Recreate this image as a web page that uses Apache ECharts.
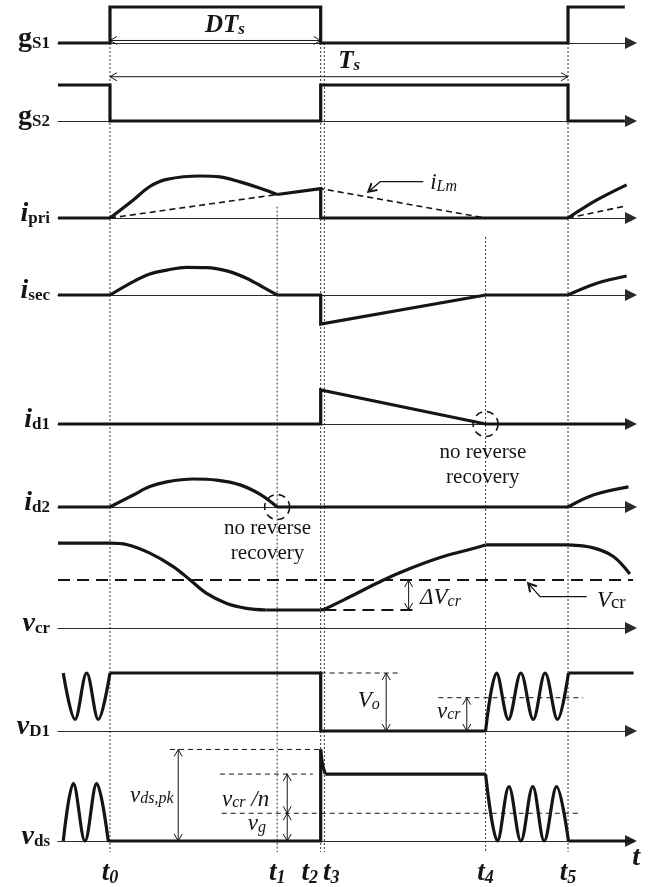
<!DOCTYPE html>
<html>
<head>
<meta charset="utf-8">
<title>Switching waveforms</title>
<script src="https://cdn.jsdelivr.net/npm/echarts@6.0.0/dist/echarts.min.js"></script>
<style>
html, body { margin: 0; padding: 0; background: #fff; }
#chart { width: 657px; height: 887px; }
</style>
</head>
<body>
<div id="chart"></div>
<script>
// ---------------------------------------------------------------------------
// Time base: one switching period Ts runs from t0 = 0 to t5 = 100.
// ---------------------------------------------------------------------------
const tMarks  = [0, 36.5, 46, 46.8, 82, 100];
const tDigits = ['0', '1', '2', '3', '4', '5'];

// Gate signals (1 = switch on)
const gS1 = [[-11.35, 0], [0, 0], [0, 1], [46, 1], [46, 0], [100, 0], [100, 1], [112.4, 1]];
const gS2 = [[-11.35, 1], [0, 1], [0, 0], [46, 0], [46, 1], [100, 1], [100, 0], [112.4, 0]];

// Primary current and magnetizing current iLm
const iPriLead = [[-11.35, 0], [0, 0]];
const iPriArc  = [[0, 0], [5.1, 0.43], [8.7, 0.75], [12.4, 0.92], [19.7, 1.0], [24, 0.98], [28.4, 0.86], [32.8, 0.71], [36.5, 0.56]];
const iPriTail = [[36.5, 0.56], [46, 0.7], [46, 0], [100, 0]];
const iPriNext = [[100, 0], [106.3, 0.43], [112.8, 0.79]];
const iLmRamp  = [[0, 0], [36.5, 0.56], [46, 0.7], [82, 0]];
const iLmNext  = [[100, 0], [112.8, 0.29]];

// Secondary current
const iSecLead = [[-11.35, 0], [0, 0]];
const iSecArc  = [[0, 0], [5.1, 0.48], [8.7, 0.75], [12.4, 0.89], [16.7, 0.99], [21.1, 0.98], [25.5, 0.86], [29.8, 0.6], [33.5, 0.27], [36.5, 0]];
const iSecTail = [[36.5, 0], [46, 0], [46, -1.04], [82, 0], [100, 0]];
const iSecNext = [[100, 0], [106.3, 0.42], [112.8, 0.68]];

// Diode currents
const iD1      = [[-11.35, 0], [46, 0], [46, 1], [82, 0], [113, 0]];
const iD2Lead  = [[-11.35, 0], [0, 0]];
const iD2Arc   = [[0, 0], [5.1, 0.43], [8.7, 0.73], [12.4, 0.9], [18.2, 1.0], [23.3, 0.96], [28.4, 0.79], [32.8, 0.45], [36.5, 0]];
const iD2Tail  = [[36.5, 0], [100, 0]];
const iD2Next  = [[100, 0], [105.5, 0.43], [113.2, 0.72]];

// Resonant capacitor voltage (1 = average Vcr)
const vCrLead  = [[-11.35, 1.77], [0, 1.77]];
const vCrFall  = [[0, 1.77], [3.6, 1.74], [8.7, 1.56], [13.8, 1.28], [17.5, 1.0], [21.1, 0.72], [25.5, 0.51], [29.8, 0.41], [34.2, 0.375]];
const vCrHold  = [[34.2, 0.375], [46, 0.375]];
const vCrRise  = [[46, 0.375], [46.8, 0.39], [52.4, 0.65], [59.7, 1.0], [65.5, 1.24], [72.1, 1.47], [77.9, 1.62], [82, 1.73]];
const vCrTop   = [[82, 1.73], [100, 1.73]];
const vCrDrop  = [[100, 1.73], [105.5, 1.67], [109.9, 1.49], [113.5, 1.125]];
const vCrAvg   = [[-11.35, 1], [115.1, 1]];

// Output diode voltage (1 = Vo)
const vD1Ring  = [[-10.2, 1], [-7.64, 0.2], [-5.09, 1], [-2.55, 0.2], [0, 1]];
const vD1Steps = [[0, 1], [46, 1], [46, 0], [82, 0]];
const vD1Ring2 = [[82, 0], [84.4, 1], [87, 0.2], [89.7, 1], [92.4, 0.2], [95, 1], [97.7, 0.2], [100.1, 1]];
const vD1Tail  = [[100.1, 1], [114.3, 1]];

// Switch drain-source voltage (1 = vg)
const vDsRing  = [[-10.2, 0], [-8.0, 2.06], [-5.46, 0], [-2.9, 2.06], [-0.37, 0]];
const vDsSteps = [[-0.37, 0], [46, 0], [46, 3.27]];
const vDsSpike = [[46, 3.27], [46.4, 2.75], [47, 2.39]];
const vDsFlat  = [[47, 2.39], [82, 2.39]];
const vDsRing2 = [[82, 2.39], [84.6, 0], [87.1, 1.94], [89.7, 0], [92.3, 1.94], [94.8, 0], [97.5, 1.94], [100.1, 0]];
const vDsTail  = [[100.1, 0], [114.3, 0]];

// ---------------------------------------------------------------------------
// Styling and layout
// ---------------------------------------------------------------------------
const FONT = '"Liberation Serif", "Times New Roman", serif';
const INK = '#151515';
const AXIS_INK = '#2a2a2a';
const X_MIN = -11.35, X_MAX = 113.75;
const PLOT = { left: 58, width: 573 };

// One strip per waveform: baseline row and pixels per unit
const traces = [
  { name: 'gS1',  base: 43,  scale: 36, yMin: 0,    yMax: 1,   tag: '{r|g}{rs|S1}' },
  { name: 'gS2',  base: 121, scale: 36, yMin: 0,    yMax: 1.7, tag: '{r|g}{rs|S2}' },
  { name: 'ipri', base: 218, scale: 42, yMin: -0.5, yMax: 1,   tag: '{i|i}{rs|pri}' },
  { name: 'isec', base: 295, scale: 28, yMin: -1.1, yMax: 1,   tag: '{i|i}{rs|sec}' },
  { name: 'id1',  base: 424, scale: 34, yMin: -1.6, yMax: 1,   tag: '{i|i}{rs|d1}' },
  { name: 'id2',  base: 507, scale: 28, yMin: -1.6, yMax: 1,   tag: '{i|i}{rs|d2}' },
  { name: 'vcr',  base: 628, scale: 48, yMin: 0,    yMax: 1.8, tag: '{i|v}{rl|cr}' },
  { name: 'vD1',  base: 731, scale: 58, yMin: 0,    yMax: 1,   tag: '{i|v}{rl|D1}' },
  { name: 'vds',  base: 841, scale: 28, yMin: 0,    yMax: 3.3, tag: '{i|v}{rs|ds}' }
];
const idx = {};
traces.forEach((t, i) => { idx[t.name] = i; });

const waves = [
  { on: 'gS1', data: gS1 },
  { on: 'gS2', data: gS2 },
  { on: 'ipri', data: iPriLead }, { on: 'ipri', data: iPriArc, smooth: true },
  { on: 'ipri', data: iPriTail }, { on: 'ipri', data: iPriNext, smooth: true },
  { on: 'ipri', data: iLmRamp, dash: [6, 4], width: 1.6 },
  { on: 'ipri', data: iLmNext, dash: [6, 4], width: 1.6 },
  { on: 'isec', data: iSecLead }, { on: 'isec', data: iSecArc, smooth: true },
  { on: 'isec', data: iSecTail }, { on: 'isec', data: iSecNext, smooth: true },
  { on: 'id1', data: iD1 },
  { on: 'id2', data: iD2Lead }, { on: 'id2', data: iD2Arc, smooth: true },
  { on: 'id2', data: iD2Tail }, { on: 'id2', data: iD2Next, smooth: true },
  { on: 'vcr', data: vCrLead }, { on: 'vcr', data: vCrFall, smooth: true },
  { on: 'vcr', data: vCrHold }, { on: 'vcr', data: vCrRise, smooth: true },
  { on: 'vcr', data: vCrTop },  { on: 'vcr', data: vCrDrop, smooth: true },
  { on: 'vcr', data: vCrAvg, dash: [12, 7], width: 1.8 },
  { on: 'vD1', data: vD1Ring, smooth: true }, { on: 'vD1', data: vD1Steps },
  { on: 'vD1', data: vD1Ring2, smooth: true }, { on: 'vD1', data: vD1Tail },
  { on: 'vds', data: vDsRing, smooth: true }, { on: 'vds', data: vDsSteps },
  { on: 'vds', data: vDsSpike, smooth: true }, { on: 'vds', data: vDsFlat },
  { on: 'vds', data: vDsRing2, smooth: true }, { on: 'vds', data: vDsTail }
];

// Dimension arrows, reference levels and notes, in each strip's own units
const notes = {
  gS1: [
    { kind: 'dim', from: [0, 0.07], to: [46, 0.07] },
    { kind: 'text', at: [25.1, 0.5], text: '{B|DT}{Bs|s}', align: 'center' }
  ],
  gS2: [
    { kind: 'dim', from: [0, 1.23], to: [100, 1.23] },
    { kind: 'text', at: [52.2, 1.67], text: '{B|T}{Bs|s}', align: 'center' }
  ],
  ipri: [
    { kind: 'pointer', path: [[68.4, 0.864], [59, 0.864], [56.4, 0.626]] },
    { kind: 'text', at: [69.9, 0.85], text: '{m|i}{s|Lm}' }
  ],
  id1: [
    { kind: 'ring', at: [82, 0], r: 12.5 },
    { kind: 'note', at: [81.4, -1.21], text: 'no reverse\nrecovery' }
  ],
  id2: [
    { kind: 'ring', at: [36.5, 0], r: 12.5 },
    { kind: 'note', at: [34.4, -1.21], text: 'no reverse\nrecovery' }
  ],
  vcr: [
    { kind: 'dash', from: [46.8, 0.375], to: [66.2, 0.375], dash: [12, 7], width: 1.8 },
    { kind: 'dim', from: [65.2, 1], to: [65.2, 0.375] },
    { kind: 'text', at: [67.7, 0.635], text: '{m|ΔV}{s|cr}' },
    { kind: 'pointer', path: [[104.1, 0.652], [93.9, 0.652], [91.3, 0.931]] },
    { kind: 'text', at: [106.3, 0.583], text: '{m|V}{u|cr}' }
  ],
  vD1: [
    { kind: 'dash', from: [46, 1], to: [63.3, 1] },
    { kind: 'dim', from: [60.3, 1], to: [60.3, 0] },
    { kind: 'text', at: [54.1, 0.52], text: '{m|V}{s|o}' },
    { kind: 'dash', from: [71.7, 0.574], to: [103.3, 0.574] },
    { kind: 'dim', from: [77.9, 0.574], to: [77.9, 0] },
    { kind: 'text', at: [71.4, 0.345], text: '{m|v}{s|cr}' }
  ],
  vds: [
    { kind: 'dash', from: [13.1, 3.27], to: [46, 3.27] },
    { kind: 'dim', from: [14.9, 3.27], to: [14.9, 0] },
    { kind: 'text', at: [4.37, 1.64], text: '{m|v}{s|ds,pk}' },
    { kind: 'dash', from: [24, 2.39], to: [44.3, 2.39] },
    { kind: 'dash', from: [24.4, 0.99], to: [102.6, 0.99] },
    { kind: 'dim', from: [38.7, 2.39], to: [38.7, 0.99] },
    { kind: 'dim', from: [38.7, 0.99], to: [38.7, 0] },
    { kind: 'text', at: [24.45, 1.5], text: '{m|v}{s|cr}{m| /n}' },
    { kind: 'text', at: [30.1, 0.61], text: '{m|v}{s|g}' },
    { kind: 'text', at: [114.0, -0.6], text: '{T|t}' }
  ]
};

// Dotted event markers: time index, strip where the marker starts, level there
const guides = [[0, 'gS1', 0], [1, 'ipri', 0.27], [2, 'gS1', 0], [3, 'gS1', 0], [4, 'ipri', -0.45], [5, 'gS1', 0]];
const GUIDE_FOOT = -0.39; // below the vds baseline

// ---------------------------------------------------------------------------
// Text styles
// ---------------------------------------------------------------------------
const tagRich = {
  r:  { fontFamily: FONT, fontWeight: 'bold', fontSize: 28, color: INK, lineHeight: 28, verticalAlign: 'bottom' },
  i:  { fontFamily: FONT, fontWeight: 'bold', fontStyle: 'italic', fontSize: 28, color: INK, lineHeight: 28, verticalAlign: 'bottom' },
  rs: { fontFamily: FONT, fontWeight: 'bold', fontSize: 17, color: INK, lineHeight: 20, verticalAlign: 'bottom' },
  rl: { fontFamily: FONT, fontWeight: 'bold', fontSize: 17, color: INK, lineHeight: 14, verticalAlign: 'bottom' }
};
const tickRich = {
  t:  { fontFamily: FONT, fontWeight: 'bold', fontStyle: 'italic', fontSize: 27, color: INK, lineHeight: 27, verticalAlign: 'bottom' },
  n:  { fontFamily: FONT, fontWeight: 'bold', fontStyle: 'italic', fontSize: 18, color: INK, lineHeight: 16, verticalAlign: 'bottom' },
  gr: { width: 22, lineHeight: 10 },
  gl: { width: 14, lineHeight: 10 }
};
const annRich = {
  m:  { fontFamily: FONT, fontStyle: 'italic', fontSize: 23, lineHeight: 24, fill: INK, verticalAlign: 'bottom' },
  s:  { fontFamily: FONT, fontStyle: 'italic', fontSize: 16, lineHeight: 12, fill: INK, verticalAlign: 'bottom' },
  u:  { fontFamily: FONT, fontSize: 19, lineHeight: 14, fill: INK, verticalAlign: 'bottom' },
  B:  { fontFamily: FONT, fontStyle: 'italic', fontWeight: 'bold', fontSize: 25, lineHeight: 26, fill: INK, verticalAlign: 'bottom' },
  Bs: { fontFamily: FONT, fontStyle: 'italic', fontWeight: 'bold', fontSize: 17, lineHeight: 13, fill: INK, verticalAlign: 'bottom' },
  T:  { fontFamily: FONT, fontStyle: 'italic', fontWeight: 'bold', fontSize: 28, lineHeight: 28, fill: INK }
};

function tickText(v) {
  const k = tMarks.indexOf(v);
  if (k < 0) return '';
  const core = '{t|t}{n|' + tDigits[k] + '}';
  if (k === 2) return core + '{gr|}';
  if (k === 3) return '{gl|}' + core;
  return core;
}

// ---------------------------------------------------------------------------
// Annotation drawing helpers (pixel geometry comes from api.coord)
// ---------------------------------------------------------------------------
function head(tip, from, len, half, lw) {
  const dx = tip[0] - from[0], dy = tip[1] - from[1];
  const L = Math.hypot(dx, dy) || 1;
  const ux = dx / L, uy = dy / L, nx = -uy, ny = ux;
  const bx = tip[0] - ux * len, by = tip[1] - uy * len;
  return {
    type: 'polyline',
    shape: { points: [[bx + nx * half, by + ny * half], tip, [bx - nx * half, by - ny * half]] },
    style: { stroke: INK, fill: 'none', lineWidth: lw || 1 }
  };
}

function drawNote(a, api) {
  const P = p => api.coord(p);
  if (a.kind === 'dash') {
    const p = P(a.from), q = P(a.to);
    return { type: 'line', shape: { x1: p[0], y1: p[1], x2: q[0], y2: q[1] },
      style: { stroke: INK, lineWidth: a.width || 1, lineDash: a.dash || [5, 4], fill: 'none' } };
  }
  if (a.kind === 'dim') {
    const p = P(a.from), q = P(a.to);
    return { type: 'group', children: [
      { type: 'line', shape: { x1: p[0], y1: p[1], x2: q[0], y2: q[1] }, style: { stroke: INK, lineWidth: 1, fill: 'none' } },
      head(p, q, 7, 4), head(q, p, 7, 4)
    ] };
  }
  if (a.kind === 'pointer') {
    const pts = a.path.map(P);
    const n = pts.length;
    return { type: 'group', children: [
      { type: 'polyline', shape: { points: pts }, style: { stroke: INK, lineWidth: 1.3, fill: 'none' } },
      head(pts[n - 1], pts[n - 2], 8, 4.5, 2)
    ] };
  }
  if (a.kind === 'ring') {
    const c = P(a.at);
    return { type: 'circle', shape: { cx: c[0], cy: c[1], r: a.r },
      style: { stroke: INK, lineWidth: 1.6, lineDash: [7, 5], fill: 'none' } };
  }
  if (a.kind === 'note') {
    const c = P(a.at);
    return { type: 'text', x: c[0], y: c[1],
      style: { text: a.text, fontFamily: FONT, fontSize: 21, lineHeight: 25, fill: INK, align: 'center', verticalAlign: 'middle' } };
  }
  const c = P(a.at);
  return { type: 'text', x: c[0], y: c[1],
    style: { text: a.text, rich: annRich, fill: INK, align: a.align || 'left', verticalAlign: 'middle' } };
}

// ---------------------------------------------------------------------------
// Option
// ---------------------------------------------------------------------------
const last = traces.length - 1;
const grid = traces.map(tr => ({
  left: PLOT.left, width: PLOT.width,
  top: tr.base - tr.yMax * tr.scale,
  height: (tr.yMax - tr.yMin) * tr.scale,
  containLabel: false, outerBoundsMode: 'none', show: false
}));

const xAxis = traces.map((tr, i) => ({
  gridIndex: i, type: 'value', min: X_MIN, max: X_MAX,
  axisLine: { show: true, onZero: true, symbol: ['none', 'triangle'], symbolSize: [12, 12],
    lineStyle: { color: AXIS_INK, width: 1.2 } },
  axisTick: { show: false },
  splitLine: { show: false },
  axisLabel: i === last
    ? { show: true, customValues: tMarks, formatter: tickText, margin: 19, rich: tickRich, hideOverlap: false }
    : { show: false }
}));

const yAxis = traces.map((tr, i) => ({
  gridIndex: i, type: 'value', min: tr.yMin, max: tr.yMax,
  axisLine: { show: false }, axisTick: { show: false }, splitLine: { show: false },
  axisLabel: { show: true, customValues: [0], formatter: v => (v === 0 ? tr.tag : ''), margin: 8,
    rich: tagRich, padding: [0, 0, 9, 0] }
}));

const series = waves.map(w => {
  const i = idx[w.on];
  return {
    type: 'line', xAxisIndex: i, yAxisIndex: i, data: w.data,
    smooth: w.smooth ? 0.35 : false, symbol: 'none', showSymbol: false,
    clip: false, silent: true, z: w.dash ? 3 : 4,
    lineStyle: { color: INK, width: w.width || 3.2, type: w.dash || 'solid',
      join: w.smooth ? 'round' : 'miter', cap: 'butt' },
    emphasis: { disabled: true }
  };
});

Object.keys(notes).forEach(key => {
  const i = idx[key];
  const list = notes[key];
  series.push({
    type: 'custom', coordinateSystem: 'cartesian2d', xAxisIndex: i, yAxisIndex: i,
    data: list.map(() => [0, 0]), silent: true, z: 5, clip: false,
    renderItem: (params, api) => drawNote(list[params.dataIndex], api)
  });
});

const chart = echarts.init(document.getElementById('chart'), null, { renderer: 'canvas' });
chart.setOption({ backgroundColor: '#ffffff', animation: false, grid, xAxis, yAxis, series });

// Dotted event markers spanning several strips, placed through each strip's scales
const guideLines = guides.map(([k, from, level]) => {
  const t = tMarks[k];
  const top = chart.convertToPixel({ gridIndex: idx[from] }, [t, level]);
  const bot = chart.convertToPixel({ gridIndex: idx.vds }, [t, GUIDE_FOOT]);
  return { type: 'line', silent: true, z: 0,
    shape: { x1: top[0], y1: top[1], x2: bot[0], y2: bot[1] },
    style: { stroke: '#333', lineWidth: 1, lineDash: [2, 2] } };
});
chart.setOption({ graphic: { elements: guideLines } });
</script>
</body>
</html>
